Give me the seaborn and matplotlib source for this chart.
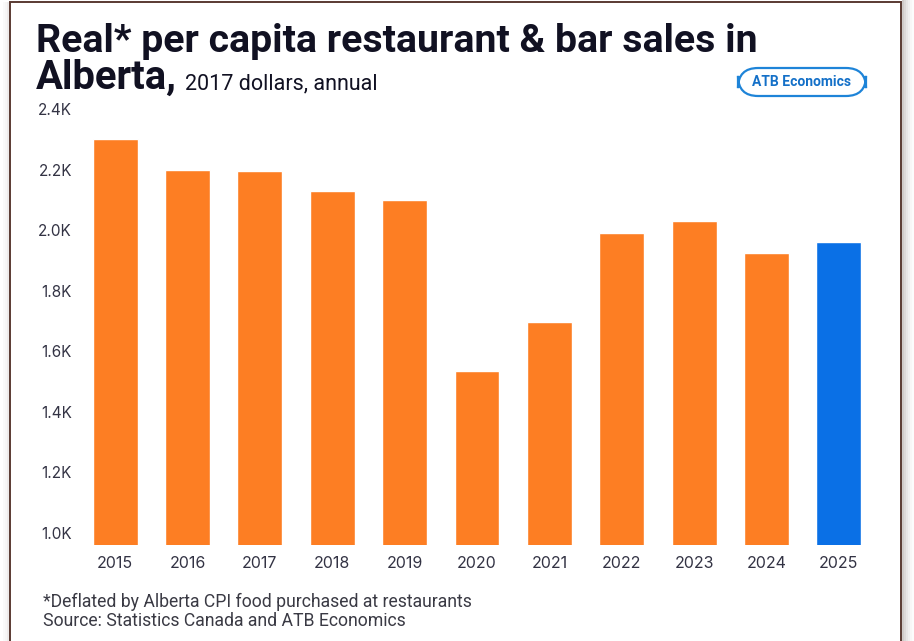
import matplotlib
matplotlib.use("Agg")
import matplotlib.pyplot as plt
from matplotlib.patches import Rectangle, FancyBboxPatch
import seaborn as sns
import pandas as pd

years = ["2015", "2016", "2017", "2018", "2019", "2020", "2021", "2022", "2023", "2024", "2025"]
sales_k = [2.30, 2.20, 2.195, 2.13, 2.10, 1.535, 1.695, 1.99, 2.03, 1.925, 1.96]
kind = ["actual"] * 10 + ["forecast"]
ytick_vals = [1.0, 1.2, 1.4, 1.6, 1.8, 2.0, 2.2, 2.4]
ytick_labels = ["1.0K", "1.2K", "1.4K", "1.6K", "1.8K", "2.0K", "2.2K", "2.4K"]

title_line1 = "Real* per capita restaurant & bar sales in"
title_bold2 = "Alberta,"
title_sub = "2017 dollars, annual"
footnote1 = "*Deflated by Alberta CPI food purchased at restaurants"
footnote2 = "Source: Statistics Canada and ATB Economics"
logo_text = "ATB Economics"

ORANGE = "#FD7E23"
BLUE = "#0A70E6"
TXT = "#333344"

sns.set_theme(style="white")
plt.rcParams["font.family"] = ["Inter", "DejaVu Sans"]

W, H = 914, 641
fig = plt.figure(figsize=(W / 100, H / 100), dpi=100)
fig.patch.set_facecolor("white")

def fx(px):
    return px / W

def fy(py):
    return 1 - py / H

ax = fig.add_axes([fx(79), fy(545), fx(875) - fx(79), fy(109) - fy(545)])
df = pd.DataFrame({"year": years, "sales": sales_k, "kind": kind})
sns.barplot(data=df, x="year", y="sales", hue="kind",
            palette={"actual": ORANGE, "forecast": BLUE},
            dodge=False, width=0.62, legend=False, ax=ax, saturation=1)
ax.set_xlim(-0.5, len(years) - 0.5)
ax.set_ylim(0.96, 2.4)
ax.set_yticks(ytick_vals)
ax.set_yticklabels(ytick_labels)
ax.set_xlabel("")
ax.set_ylabel("")
for s in ax.spines.values():
    s.set_visible(False)
ax.tick_params(axis="y", length=0, pad=5, labelsize=11, labelcolor=TXT)
ax.tick_params(axis="x", length=0, pad=8, labelsize=11.5, labelcolor=TXT)
ax.set_facecolor("white")

# Titles
TFONT = ["Roboto", "DejaVu Sans"]
fig.text(fx(36), fy(52), title_line1, fontsize=28.3, fontweight="bold",
         family=TFONT, color="#111122", ha="left", va="baseline")
t2 = fig.text(fx(36), fy(89), title_bold2, fontsize=28.8, fontweight="bold",
              family=TFONT, color="#111122", ha="left", va="baseline")
fig.canvas.draw()
bb = t2.get_window_extent(renderer=fig.canvas.get_renderer())
fig.text((bb.x1 + 8) / W, fy(89), title_sub, fontsize=15.5, family=TFONT,
         color="#111122", ha="left", va="baseline")

# Logo
logo = FancyBboxPatch((fx(738), fy(96)), fx(866) - fx(738), fy(68) - fy(96),
                      boxstyle="round,pad=0,rounding_size=0.022",
                      transform=fig.transFigure, facecolor="white",
                      edgecolor="#1E84D8", linewidth=1.6, mutation_aspect=W / H)
fig.add_artist(logo)
fig.text(fx(802), fy(82), logo_text, fontsize=10, fontweight="bold", family=TFONT,
         color="#1470C8", ha="center", va="center")

# Footnotes
fig.text(fx(43), fy(602), footnote1, fontsize=12.7, family=TFONT, color="#3a3a44",
         ha="left", va="center")
fig.text(fx(43), fy(621), footnote2, fontsize=12.7, family=TFONT, color="#3a3a44",
         ha="left", va="center")

# Frame and shadow
for i, a in enumerate([0.35, 0.25, 0.17, 0.1, 0.05, 0.02]):
    fig.add_artist(Rectangle((fx(902 + 2 * i), 0), fx(2), 1, transform=fig.transFigure,
                             facecolor="#7a6a66", edgecolor="none", alpha=a))
for i, a in enumerate([0.12, 0.06, 0.03]):
    fig.add_artist(Rectangle((fx(9 - 2 * (i + 1)), 0), fx(2), fy(2), transform=fig.transFigure,
                             facecolor="#7a6a66", edgecolor="none", alpha=a))
fig.add_artist(Rectangle((fx(10), fy(H + 5)), fx(901) - fx(10), fy(2) - fy(H + 5),
                         transform=fig.transFigure, facecolor="none",
                         edgecolor="#5a3a32", linewidth=1.4, clip_on=False))

fig.savefig("out.png", dpi=100, facecolor="white")
